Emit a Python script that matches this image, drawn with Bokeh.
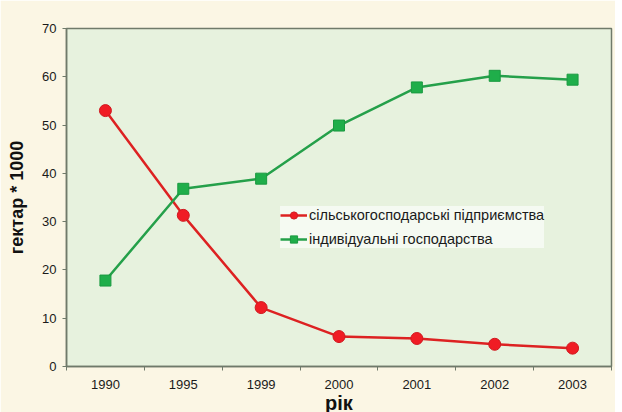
from bokeh.plotting import figure
from bokeh.models import FixedTicker, Range1d, Legend, LegendItem
from bokeh.embed import file_html
from bokeh.resources import INLINE

years = ["1990", "1995", "1999", "2000", "2001", "2002", "2003"]
agri_enterprises = [53.0, 31.3, 12.2, 6.2, 5.8, 4.6, 3.8]
individual_farms = [17.8, 36.8, 38.9, 49.9, 57.8, 60.2, 59.4]
y_ticks = [0, 10, 20, 30, 40, 50, 60, 70]
series_names = ["сільськогосподарські підприємства", "індивідуальні господарства"]

xs = [i + 0.5 for i in range(len(years))]

p = figure(frame_width=545, frame_height=338, output_backend="svg", toolbar_location=None,
           x_range=Range1d(0, len(years)), y_range=Range1d(0, 70),
           min_border_left=66, min_border_right=4, min_border_top=28, min_border_bottom=38)

p.background_fill_color = "#e7f2de"
p.border_fill_color = "#fbf6e4"
p.outline_line_color = "#6f7a6a"
p.outline_line_width = 1.5
p.grid.visible = False

font = "Liberation Sans"

p.xaxis.ticker = FixedTicker(ticks=xs, minor_ticks=list(range(len(years) + 1)))
p.xaxis.major_label_overrides = {x: y for x, y in zip(xs, years)}
p.xaxis.major_tick_out = 0
p.xaxis.major_tick_in = 0
p.xaxis.minor_tick_out = 4
p.xaxis.minor_tick_in = 0
p.xaxis.minor_tick_line_color = "#6f7a6a"
p.xaxis.axis_line_color = "#6f7a6a"
p.xaxis.axis_line_width = 1.5
p.xaxis.major_label_text_font = font
p.xaxis.major_label_text_font_size = "13px"
p.xaxis.major_label_text_color = "#1a1a1a"
p.xaxis.major_label_standoff = 9
p.xaxis.axis_label = "рік"
p.xaxis.axis_label_text_font = font
p.xaxis.axis_label_text_font_style = "bold"
p.xaxis.axis_label_text_font_size = "20px"
p.xaxis.axis_label_text_color = "#111111"
p.xaxis.axis_label_standoff = 0

p.yaxis.ticker = FixedTicker(ticks=y_ticks, minor_ticks=[])
p.yaxis.major_tick_out = 4
p.yaxis.major_tick_in = 0
p.yaxis.major_tick_line_color = "#6f7a6a"
p.yaxis.axis_line_color = "#6f7a6a"
p.yaxis.axis_line_width = 1.5
p.yaxis.major_label_text_font = font
p.yaxis.major_label_text_font_size = "13px"
p.yaxis.major_label_text_color = "#1a1a1a"
p.yaxis.major_label_standoff = 6
p.yaxis.axis_label = "гектар * 1000"
p.yaxis.axis_label_text_font = font
p.yaxis.axis_label_text_font_style = "bold"
p.yaxis.axis_label_text_font_size = "18px"
p.yaxis.axis_label_text_color = "#111111"
p.yaxis.axis_label_standoff = 12

red_line = p.line(xs, agri_enterprises, line_color="#dd2222", line_width=2.5)
red_pts = p.scatter(xs, agri_enterprises, marker="circle", size=12,
                    fill_color="#f01c24", line_color="#d01a20")
green_line = p.line(xs, individual_farms, line_color="#25a04a", line_width=2.5)
green_pts = p.scatter(xs, individual_farms, marker="square", size=11,
                      fill_color="#1fae4a", line_color="#1a9a40")

legend = Legend(items=[
    LegendItem(label=series_names[0], renderers=[red_line, red_pts]),
    LegendItem(label=series_names[1], renderers=[green_line, green_pts]),
], location=(214, 118))
legend.background_fill_color = "#ffffff"
legend.background_fill_alpha = 0.6
legend.border_line_color = None
legend.label_text_font = font
legend.label_text_font_size = "14.5px"
legend.label_text_color = "#1a1a1a"
legend.glyph_width = 27
legend.glyph_height = 18
legend.label_height = 18
legend.spacing = 6
legend.padding = 5
legend.label_standoff = 2
legend.margin = 0
p.add_layout(legend, "center")

open("out.html", "w").write(file_html(p, INLINE))
